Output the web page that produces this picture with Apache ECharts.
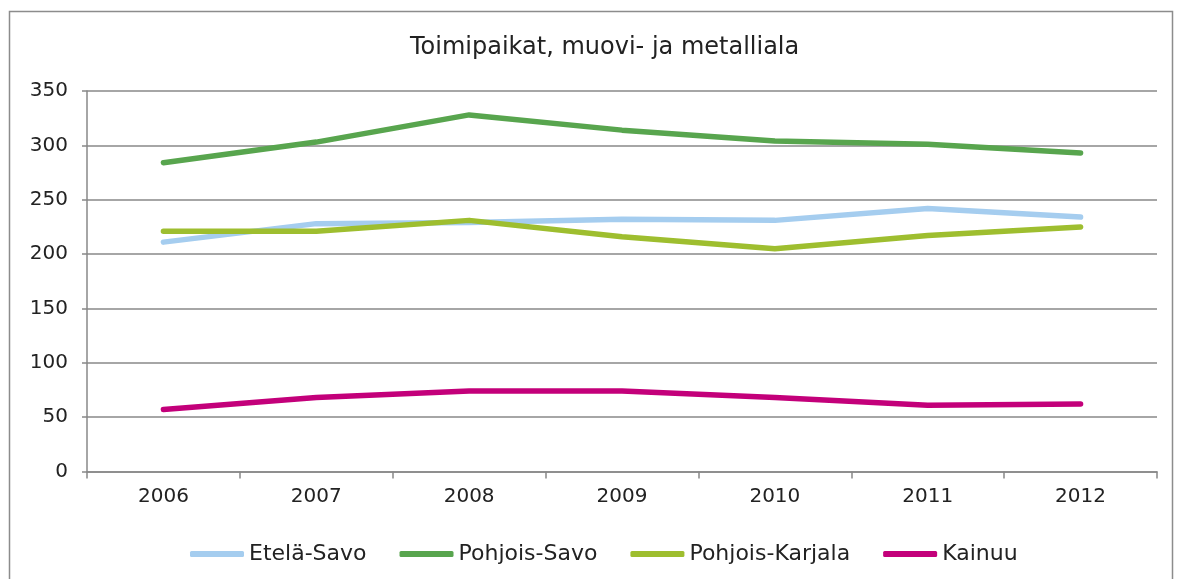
<!DOCTYPE html>
<html>
<head>
<meta charset="utf-8">
<script src="https://cdn.jsdelivr.net/npm/echarts@6/dist/echarts.min.js"></script>
<style>
  html, body { margin: 0; padding: 0; background: #fff; }
  #main { width: 1183px; height: 579px; }
</style>
</head>
<body>
<div id="main"></div>
<script>
const years = ['2006', '2007', '2008', '2009', '2010', '2011', '2012'];
const etelaSavo = [211, 228, 229, 232, 231, 242, 234];
const pohjoisSavo = [284, 303, 328, 314, 304, 301, 293];
const pohjoisKarjala = [221, 221, 231, 216, 205, 217, 225];
const kainuu = [57, 68, 74, 74, 68, 61, 62];

const chart = echarts.init(document.getElementById('main'));
const font = 'DejaVu Sans, Verdana, sans-serif';

function line(name, data, color) {
  return {
    name: name,
    type: 'line',
    data: data,
    symbol: 'none',
    lineStyle: { color: color, width: 5.5, cap: 'round', join: 'round' },
    itemStyle: { color: color }
  };
}

const option = {
  animation: false,
  graphic: [{
    type: 'rect',
    shape: { x: 9.5, y: 11.5, width: 1163, height: 620 },
    style: { fill: 'none', stroke: '#8c8c8c', lineWidth: 1.5 },
    silent: true
  }],
  title: {
    text: 'Toimipaikat, muovi- ja metalliala',
    left: 405,
    top: 31,
    textStyle: { fontFamily: font, fontSize: 24, fontWeight: 'normal', color: '#222' }
  },
  legend: {
    left: 185,
    top: 538,
    icon: 'roundRect',
    itemWidth: 54,
    itemHeight: 6,
    itemGap: 33,
    textStyle: { fontFamily: font, fontSize: 22, color: '#222' },
    data: ['Etelä-Savo', 'Pohjois-Savo', 'Pohjois-Karjala', 'Kainuu']
  },
  grid: { left: 87, right: 26, top: 91, bottom: 107.5, containLabel: false },
  xAxis: {
    type: 'category',
    data: years,
    boundaryGap: true,
    axisLine: { lineStyle: { color: '#888', width: 1.5 } },
    axisTick: { show: true, length: 7, interval: 0, lineStyle: { color: '#888', width: 1.5 } },
    axisLabel: { fontFamily: font, fontSize: 20, color: '#222', margin: 15 }
  },
  yAxis: {
    type: 'value',
    min: 0,
    max: 350,
    interval: 50,
    axisLine: { show: true, lineStyle: { color: '#888', width: 1.5 } },
    axisTick: { show: true, length: 5, lineStyle: { color: '#888', width: 1.5 } },
    splitLine: { lineStyle: { color: '#888', width: 1.5 } },
    axisLabel: { fontFamily: font, fontSize: 20, color: '#222', margin: 19 }
  },
  series: [
    line('Etelä-Savo', etelaSavo, '#a5cdef'),
    line('Pohjois-Savo', pohjoisSavo, '#58a54e'),
    line('Pohjois-Karjala', pohjoisKarjala, '#9ebe2f'),
    line('Kainuu', kainuu, '#c3007a')
  ]
};
chart.setOption(option);
</script>
</body>
</html>
